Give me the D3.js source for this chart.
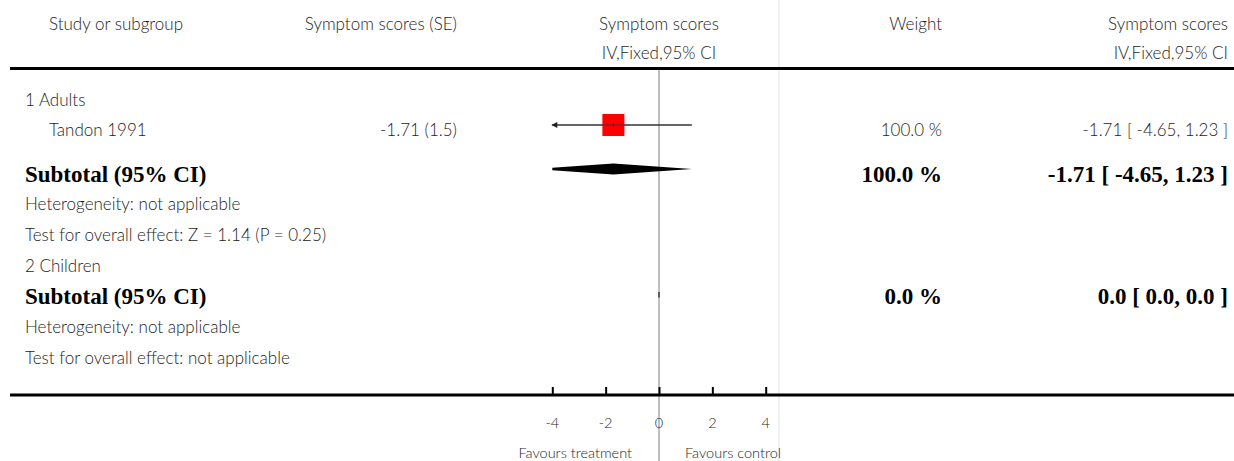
<!DOCTYPE html>
<html>
<head>
<meta charset="utf-8">
<script src="https://cdn.jsdelivr.net/npm/d3@7"></script>
<style>
  html, body { margin: 0; padding: 0; background: #fff; }
  svg { display: block; }
  .thin { font-family: Lato, "Open Sans", sans-serif; font-weight: 300; fill: #1c1c1c; }
  .bold { font-family: "Liberation Serif", "DejaVu Serif", serif; font-weight: bold; fill: #000; }
</style>
</head>
<body>
<svg id="chart" width="1234" height="461"></svg>
<script>
// ---------------- data ----------------
const headers = ["Study or subgroup", "Symptom scores (SE)", "Symptom scores", "Weight", "Symptom scores"];
const subHeaders = ["IV,Fixed,95% CI", "IV,Fixed,95% CI"];

const subgroupNames = ["1 Adults", "2 Children"];
const studyNames = ["Tandon 1991"];
const studySubgroup = [0];
const studyEstimate = [-1.71];
const studySE = [1.5];
const studyLow = [-4.65];
const studyHigh = [1.23];
const studyWeight = [100.0];

const subtotalEstimate = [-1.71, 0.0];
const subtotalLow = [-4.65, 0.0];
const subtotalHigh = [1.23, 0.0];
const subtotalWeight = [100.0, 0.0];
const heterogeneityText = ["Heterogeneity: not applicable", "Heterogeneity: not applicable"];
const overallEffectText = ["Test for overall effect: Z = 1.14 (P = 0.25)", "Test for overall effect: not applicable"];

const axisTicks = [-4, -2, 0, 2, 4];
const axisDomain = [-4, 4];
const favoursLabels = ["Favours treatment", "Favours control"];

// ---------------- layout ----------------
const svg = d3.select("#chart");
const W = 1234, H = 461;
const x = d3.scaleLinear().domain(axisDomain).range([552.3, 765.7]);
const colStudyX = 49, colLeftX = 25, colSEX = 457, colWeightX = 942, colCIX = 1228;

const rowY = {
  sub0: 106, study0: 136, tot0: 181.5, het0: 210, test0: 241,
  sub1: 272, tot1: 304, het1: 333, test1: 364
};
const rowCenter = { study0: 125, tot0: 169, tot1: 295 };

const f2 = v => (v === 0 ? "0.0" : v.toFixed(2));
const fmtCI = (e, l, h) => `${f2(e)} [ ${f2(l)}, ${f2(h)} ]`;
const fmtW = w => w.toFixed(1) + " %";

// light separator line
svg.append("line").attr("x1", 779).attr("x2", 779).attr("y1", 0).attr("y2", H)
  .attr("stroke", "#e8e8e8").attr("stroke-width", 1.2);

// zero line
svg.append("line").attr("x1", x(0)).attr("x2", x(0)).attr("y1", 68).attr("y2", H)
  .attr("stroke", "#a8a8a8").attr("stroke-width", 1.5);

// header
const hdr = svg.append("g").attr("class", "thin").style("font-size", "17px");
hdr.append("text").attr("x", colStudyX).attr("y", 29.5).text(headers[0]);
hdr.append("text").attr("x", colSEX).attr("y", 29.5).attr("text-anchor", "end").text(headers[1]);
hdr.append("text").attr("x", x(0)).attr("y", 29.5).attr("text-anchor", "middle").text(headers[2]);
hdr.append("text").attr("x", colWeightX).attr("y", 29.5).attr("text-anchor", "end").text(headers[3]);
hdr.append("text").attr("x", colCIX).attr("y", 29.5).attr("text-anchor", "end").text(headers[4]);
hdr.append("text").attr("x", x(0)).attr("y", 59.3).attr("text-anchor", "middle").text(subHeaders[0]);
hdr.append("text").attr("x", colCIX).attr("y", 59.3).attr("text-anchor", "end").text(subHeaders[1]);

// top rule
svg.append("line").attr("x1", 10).attr("x2", W).attr("y1", 68.5).attr("y2", 68.5)
  .attr("stroke", "#000").attr("stroke-width", 3);

// body text
const body = svg.append("g").attr("class", "thin").style("font-size", "17px");
const subKeys = ["sub0", "sub1"];
subgroupNames.forEach((n, i) => {
  body.append("text").attr("x", colLeftX).attr("y", rowY[subKeys[i]]).text(n);
});
studyNames.forEach((n, i) => {
  const y = rowY["study" + i];
  body.append("text").attr("x", colStudyX).attr("y", y).text(n);
  body.append("text").attr("x", colSEX).attr("y", y).attr("text-anchor", "end")
    .text(`${studyEstimate[i]} (${studySE[i]})`);
  body.append("text").attr("x", colWeightX).attr("y", y).attr("text-anchor", "end").text(fmtW(studyWeight[i]));
  body.append("text").attr("x", colCIX).attr("y", y).attr("text-anchor", "end")
    .text(fmtCI(studyEstimate[i], studyLow[i], studyHigh[i]));
});
heterogeneityText.forEach((t, i) => {
  body.append("text").attr("x", colLeftX).attr("y", rowY["het" + i]).text(t);
});
overallEffectText.forEach((t, i) => {
  body.append("text").attr("x", colLeftX).attr("y", rowY["test" + i]).text(t);
});

// bold subtotal rows
const bold = svg.append("g").attr("class", "bold").style("font-size", "23px");
subtotalEstimate.forEach((e, i) => {
  const y = rowY["tot" + i];
  bold.append("text").attr("x", colLeftX).attr("y", y).text("Subtotal (95% CI)");
  bold.append("text").attr("x", colWeightX).attr("y", y).attr("text-anchor", "end").text(fmtW(subtotalWeight[i]));
  bold.append("text").attr("x", colCIX).attr("y", y).attr("text-anchor", "end")
    .text(fmtCI(e, subtotalLow[i], subtotalHigh[i]));
});

// study CI lines and squares
const clampX = v => x(Math.max(axisDomain[0], Math.min(axisDomain[1], v)));
studyNames.forEach((n, i) => {
  const cy = rowCenter["study" + i];
  const x1 = clampX(studyLow[i]), x2 = clampX(studyHigh[i]);
  svg.append("line").attr("x1", x1).attr("x2", x2).attr("y1", cy).attr("y2", cy)
    .attr("stroke", "#333").attr("stroke-width", 1.3);
  if (studyLow[i] < axisDomain[0]) {
    svg.append("path").attr("d", `M${x1 - 1},${cy} L${x1 + 5},${cy - 3} L${x1 + 5},${cy + 3} Z`).attr("fill", "#222");
  }
  if (studyHigh[i] > axisDomain[1]) {
    svg.append("path").attr("d", `M${x2 + 1},${cy} L${x2 - 5},${cy - 3} L${x2 - 5},${cy + 3} Z`).attr("fill", "#222");
  }
  const side = 22 * Math.sqrt(studyWeight[i] / 100);
  svg.append("rect").attr("x", x(studyEstimate[i]) - side / 2).attr("y", cy - side / 2)
    .attr("width", side).attr("height", side).attr("fill", "#ff0000");
  svg.append("line").attr("x1", x(studyEstimate[i])).attr("x2", x(studyEstimate[i]))
    .attr("y1", cy - 2).attr("y2", cy + 2).attr("stroke", "#333").attr("stroke-width", 1);
  svg.append("line").attr("x1", x(studyEstimate[i]) - side / 2).attr("x2", x(studyEstimate[i]) + side / 2)
    .attr("y1", cy).attr("y2", cy).attr("stroke", "#333").attr("stroke-width", 1.3).attr("opacity", 0.6);
});

// subtotal diamonds
subtotalEstimate.forEach((e, i) => {
  const cy = rowCenter["tot" + i];
  if (subtotalWeight[i] === 0) {
    svg.append("line").attr("x1", x(0)).attr("x2", x(0)).attr("y1", cy - 3).attr("y2", cy + 2.5)
      .attr("stroke", "#444").attr("stroke-width", 1.6);
    return;
  }
  const lo = subtotalLow[i], hi = subtotalHigh[i], hh = 5.5;
  const hAt = v => v <= e ? hh * (v - lo) / (e - lo) : hh * (hi - v) / (hi - e);
  const l = Math.max(lo, axisDomain[0]), r = Math.min(hi, axisDomain[1]);
  const pts = [[x(l), cy - hAt(l)], [x(e), cy - hh], [x(r), cy - hAt(r)], [x(r), cy + hAt(r)], [x(e), cy + hh], [x(l), cy + hAt(l)]];
  svg.append("path").attr("d", d3.line()(pts) + "Z").attr("fill", "#000");
});

// bottom axis
const axisG = svg.append("g").attr("transform", "translate(0,395)");
svg.append("line").attr("x1", 10).attr("x2", W).attr("y1", 395).attr("y2", 395)
  .attr("stroke", "#000").attr("stroke-width", 3);
const axis = d3.axisTop(x).tickValues(axisTicks).tickSize(8).tickFormat("");
axisG.call(axis);
axisG.select(".domain").remove();
axisG.selectAll(".tick line").attr("stroke", "#000").attr("stroke-width", 2);

const tl = svg.append("g").attr("class", "thin").style("font-size", "14.5px");
axisTicks.forEach(t => {
  tl.append("text").attr("x", x(t)).attr("y", 427.5).attr("text-anchor", "middle").text(String(t));
});
tl.append("text").attr("x", 632).attr("y", 458).attr("text-anchor", "end").text(favoursLabels[0]);
tl.append("text").attr("x", 685).attr("y", 458).text(favoursLabels[1]);
</script>
</body>
</html>
